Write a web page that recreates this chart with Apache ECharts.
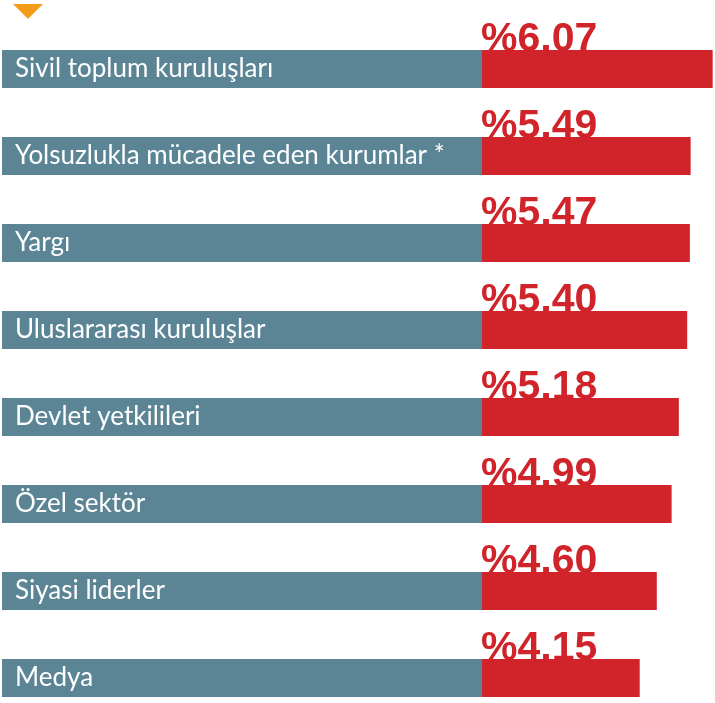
<!DOCTYPE html>
<html>
<head>
<meta charset="utf-8">
<style>
  html, body { margin: 0; padding: 0; background: #ffffff; }
  #chart { width: 715px; height: 703px; }
</style>
<script src="https://cdn.jsdelivr.net/npm/echarts@6/dist/echarts.min.js"></script>
</head>
<body>
<div id="chart"></div>
<script>
// Institutions, top to bottom
const categories = [
  'Sivil toplum kuruluşları',
  'Yolsuzlukla mücadele eden kurumlar *',
  'Yargı',
  'Uluslararası kuruluşlar',
  'Devlet yetkilileri',
  'Özel sektör',
  'Siyasi liderler',
  'Medya'
];
// Share per institution (%)
const shares = [6.07, 5.49, 5.47, 5.40, 5.18, 4.99, 4.60, 4.15];

const PANEL = '#5b8595';
const RED = '#d0232a';

const chart = echarts.init(document.getElementById('chart'), null, { renderer: 'canvas' });

const fmt = v => '%' + v.toFixed(2).replace('.', ',');

// rows sit on the category ticks: first at y=69, 87px apart
const rowGap = 87;
const firstRow = 69;
const gridHeight = rowGap * (categories.length - 1);

const catAxisBase = {
  type: 'category', data: categories, inverse: true, boundaryGap: false,
  axisLine: { show: false }, axisTick: { show: false }, splitLine: { show: false }
};

chart.setOption({
  animation: false,
  backgroundColor: '#ffffff',
  graphic: [{
    type: 'polygon',
    shape: { points: [[13, 4], [43, 4], [28, 19]] },
    style: { fill: '#f59b1c' }
  }],
  grid: [
    { left: 2, top: firstRow, width: 480, height: gridHeight, containLabel: false },
    { left: 482, top: firstRow, width: 233, height: gridHeight, containLabel: false }
  ],
  xAxis: [
    { gridIndex: 0, type: 'value', min: 0, max: 1, show: false },
    { gridIndex: 1, type: 'value', min: 0, max: 233 / 38, show: false }
  ],
  yAxis: [
    Object.assign({}, catAxisBase, {
      gridIndex: 0,
      axisLabel: {
        inside: true, margin: 13, color: '#ffffff',
        fontFamily: 'Lato', fontSize: 26, verticalAlign: 'middle',
        padding: [0, 0, 4, 0]
      },
      z: 5
    }),
    Object.assign({}, catAxisBase, { gridIndex: 1, show: false })
  ],
  series: [
    {
      // label panels behind the category names
      type: 'bar', xAxisIndex: 0, yAxisIndex: 0,
      data: categories.map(() => 0),
      barWidth: 38,
      showBackground: true,
      backgroundStyle: { color: PANEL, opacity: 1 },
      itemStyle: { color: PANEL },
      silent: true
    },
    {
      type: 'bar', xAxisIndex: 1, yAxisIndex: 1,
      data: shares,
      barWidth: 38,
      itemStyle: { color: RED },
      label: {
        show: true,
        position: [-1, 10],
        align: 'left',
        verticalAlign: 'bottom',
        formatter: p => fmt(p.value),
        color: RED,
        fontFamily: 'Liberation Sans',
        fontWeight: 'bold',
        fontSize: 41
      }
    }
  ]
});
</script>
</body>
</html>
